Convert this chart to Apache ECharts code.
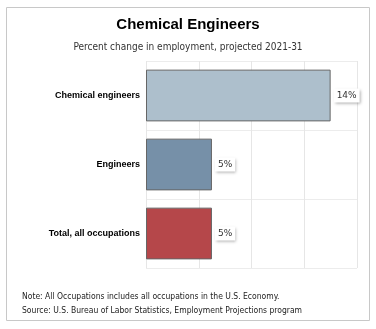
<!DOCTYPE html>
<html><head><meta charset="utf-8">
<script src="https://cdn.jsdelivr.net/npm/echarts@6/dist/echarts.min.js"></script>
<style>html,body{margin:0;padding:0;background:#fff}#c{width:376px;height:329px}</style>
</head><body><div id="c"></div>
<script>
const categories = ["Chemical engineers", "Engineers", "Total, all occupations"];
const values = [14, 5, 5];
const barColors = ["#adbfcc", "#7690a8", "#b5474a"];
const xTicks = [0, 4, 8, 12, 16];
const titleText = "Chemical Engineers";
const subtitleText = "Percent change in employment, projected 2021-31";
const noteText = "Note: All Occupations includes all occupations in the U.S. Economy.";
const sourceText = "Source: U.S. Bureau of Labor Statistics, Employment Projections program";

const chart = echarts.init(document.getElementById('c'), null, {renderer: 'canvas'});
chart.setOption({
  animation: false,
  title: {
    text: titleText, subtext: subtitleText, left: 'center', top: 12, itemGap: 10,
    textStyle: {fontFamily: 'Liberation Sans Narrow, Liberation Sans, Arial', fontWeight: 'bold', fontSize: 15, color: '#000'},
    subtextStyle: {fontFamily: 'DejaVu Sans Condensed, DejaVu Sans', fontSize: 10, color: '#333'}
  },
  grid: {left: 146, right: 19, top: 61, bottom: 61},
  xAxis: {
    type: 'value', min: xTicks[0], max: xTicks[xTicks.length-1], interval: 4,
    axisLabel: {show: false}, axisLine: {show: false}, axisTick: {show: false},
    splitLine: {lineStyle: {color: '#e6e6e6'}}
  },
  yAxis: {
    type: 'category', data: categories, inverse: true,
    axisLine: {show: false}, axisTick: {show: false},
    splitLine: {show: true, lineStyle: {color: '#ececec'}},
    axisLabel: {fontFamily: 'Liberation Sans, Arial', fontWeight: 'bold', fontSize: 9, color: '#000', margin: 6}
  },
  series: [{
    type: 'bar', barCategoryGap: '25%',
    data: values.map((v, i) => ({value: v, itemStyle: {color: barColors[i]}})),
    itemStyle: {borderColor: '#666', borderWidth: 1},
    label: {
      show: true, position: 'right', distance: 3, formatter: '{c}%',
      fontFamily: 'DejaVu Sans', fontSize: 9, color: '#333',
      backgroundColor: '#fff', padding: [3, 3, 2, 3],
      shadowColor: 'rgba(0,0,0,0.35)', shadowBlur: 3, shadowOffsetX: 1, shadowOffsetY: 1
    }
  }],
  graphic: [
    {type: 'rect', shape: {x: 6.5, y: 7.5, width: 363, height: 313}, style: {fill: 'none', stroke: '#c8c8c8', lineWidth: 1}, z: -1},
    {type: 'text', left: 22, top: 292, style: {text: noteText, fontFamily: 'DejaVu Sans Condensed, DejaVu Sans', fontSize: 8.5, fill: '#222'}},
    {type: 'text', left: 22, top: 306, style: {text: sourceText, fontFamily: 'DejaVu Sans Condensed, DejaVu Sans', fontSize: 8.5, fill: '#222'}}
  ]
});
</script></body></html>
